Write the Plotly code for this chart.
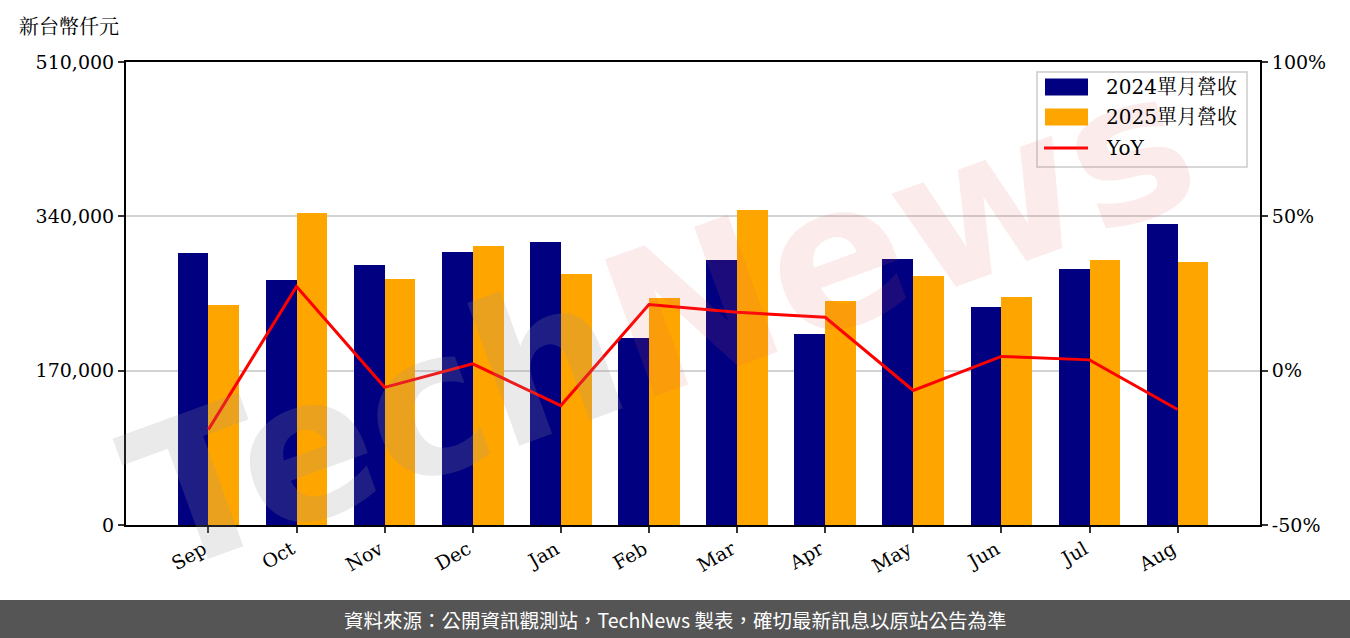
import plotly.graph_objects as go

months = ["Sep", "Oct", "Nov", "Dec", "Jan", "Feb", "Mar", "Apr", "May", "Jun", "Jul", "Aug"]
rev_2024 = [299600, 269900, 286400, 300700, 311700, 206000, 291900, 210400, 293000, 240100, 282000, 331600]
rev_2025 = [242300, 343700, 271000, 307300, 276500, 250000, 347000, 246700, 274300, 251100, 291900, 289700]
yoy = [-19.1, 27.3, -5.4, 2.2, -11.3, 21.4, 18.9, 17.3, -6.4, 4.6, 3.5, -12.6]

left_ticks = [0, 170000, 340000, 510000]
left_tick_text = ["0", "170,000", "340,000", "510,000"]
right_ticks = [-50, 0, 50, 100]
right_tick_text = ["-50%", "0%", "50%", "100%"]

series_names = ["2024單月營收", "2025單月營收", "YoY"]
colors = ["#000080", "#FFA500", "#FF0000"]

x = list(range(len(months)))
w = 0.35
FONT = "DejaVu Serif, Noto Serif CJK TC, Noto Sans CJK TC, serif"

# plot area in pixels
L, R, T, B = 126, 1260, 62, 525


def px(xp):
    return (xp - L) / (R - L)


def py(yp):
    return (B - yp) / (B - T)


fig = go.Figure()
fig.add_trace(go.Bar(x=[i - w / 2 for i in x], y=rev_2024, width=w, name=series_names[0],
                     marker=dict(color=colors[0], line=dict(width=0))))
fig.add_trace(go.Bar(x=[i + w / 2 for i in x], y=rev_2025, width=w, name=series_names[1],
                     marker=dict(color=colors[1], line=dict(width=0))))
fig.add_trace(go.Scatter(x=x, y=yoy, name=series_names[2], mode="lines", yaxis="y2",
                         line=dict(color=colors[2], width=3)))

fig.update_layout(
    width=1350, height=638,
    margin=dict(l=L, r=1350 - R, t=T, b=638 - B),
    paper_bgcolor="white", plot_bgcolor="white",
    font=dict(family=FONT, size=18, color="black"),
    barmode="overlay", bargap=0,
    showlegend=False,
    xaxis=dict(range=[-0.935, len(months) - 1 + 0.935], tickmode="array", tickvals=x,
               ticktext=months, tickangle=-30, showline=True, linecolor="black", linewidth=2,
               mirror=True, ticks="outside", ticklen=6, tickwidth=2, tickcolor="#333",
               ticklabelshift=-5, ticklabelstandoff=-2,
               showgrid=False, zeroline=False, tickfont=dict(family=FONT, size=19)),
    yaxis=dict(range=[0, 510000], tickmode="array", tickvals=left_ticks, ticktext=left_tick_text,
               showline=True, linecolor="black", linewidth=2, ticks="outside", ticklen=6,
               tickwidth=2, tickcolor="#333", showgrid=True, gridcolor="#d3d3d3", gridwidth=1.5,
               zeroline=False, tickfont=dict(family=FONT, size=19)),
    yaxis2=dict(range=[-50, 100], overlaying="y", side="right", tickmode="array",
                tickvals=right_ticks, ticktext=right_tick_text, showline=True, linecolor="black",
                linewidth=2, ticks="outside", ticklen=6, tickwidth=2, tickcolor="#333",
                showgrid=False, zeroline=False, tickfont=dict(family=FONT, size=19)),
)

# Unit label
fig.add_annotation(text="新台幣仟元", xref="paper", yref="paper", x=px(17), y=py(27),
                   xanchor="left", yanchor="middle", showarrow=False,
                   font=dict(family=FONT, size=20, color="black"))

# Watermark
fig.add_annotation(
    text="<b><span style='color:rgba(150,150,150,0.2)'>Tech</span>"
         "<span style='color:rgba(225,90,90,0.12)'>News</span></b>",
    xref="paper", yref="paper", x=px(660), y=py(320), showarrow=False, textangle=-20,
    font=dict(family="DejaVu Sans", size=200), xanchor="center", yanchor="middle")

# Custom legend
fig.add_shape(type="rect", xref="paper", yref="paper", x0=px(1037), x1=px(1247),
              y0=py(167), y1=py(72), line=dict(color="#cccccc", width=1.5),
              fillcolor="rgba(255,255,255,0.8)", layer="above")
legend_rows = [87, 117, 148]
for k, (name, col) in enumerate(zip(series_names, colors)):
    yc = legend_rows[k]
    if k < 2:
        fig.add_shape(type="rect", xref="paper", yref="paper", x0=px(1045), x1=px(1088),
                      y0=py(yc + 8.5), y1=py(yc - 8.5), line=dict(width=0), fillcolor=col,
                      layer="above")
    else:
        fig.add_shape(type="line", xref="paper", yref="paper", x0=px(1044), x1=px(1088),
                      y0=py(yc), y1=py(yc), line=dict(color=col, width=3), layer="above")
    fig.add_annotation(text=name, xref="paper", yref="paper", x=px(1104), y=py(yc),
                       xanchor="left", yanchor="middle", showarrow=False,
                       font=dict(family=FONT, size=20, color="black"))

# Footer band
fig.add_shape(type="rect", xref="paper", yref="paper", x0=px(0), x1=px(1350),
              y0=py(638), y1=py(600), line=dict(width=0), fillcolor="#555555", layer="above")
fig.add_annotation(text="資料來源：公開資訊觀測站，TechNews 製表，確切最新訊息以原站公告為準",
                   xref="paper", yref="paper", x=px(675), y=py(619),
                   showarrow=False, xanchor="center", yanchor="middle",
                   font=dict(family="Noto Sans CJK TC, sans-serif", size=19.5, color="white"))

fig.write_html("out.html", config={"displayModeBar": False},
               post_script="document.body.style.margin='0';")
